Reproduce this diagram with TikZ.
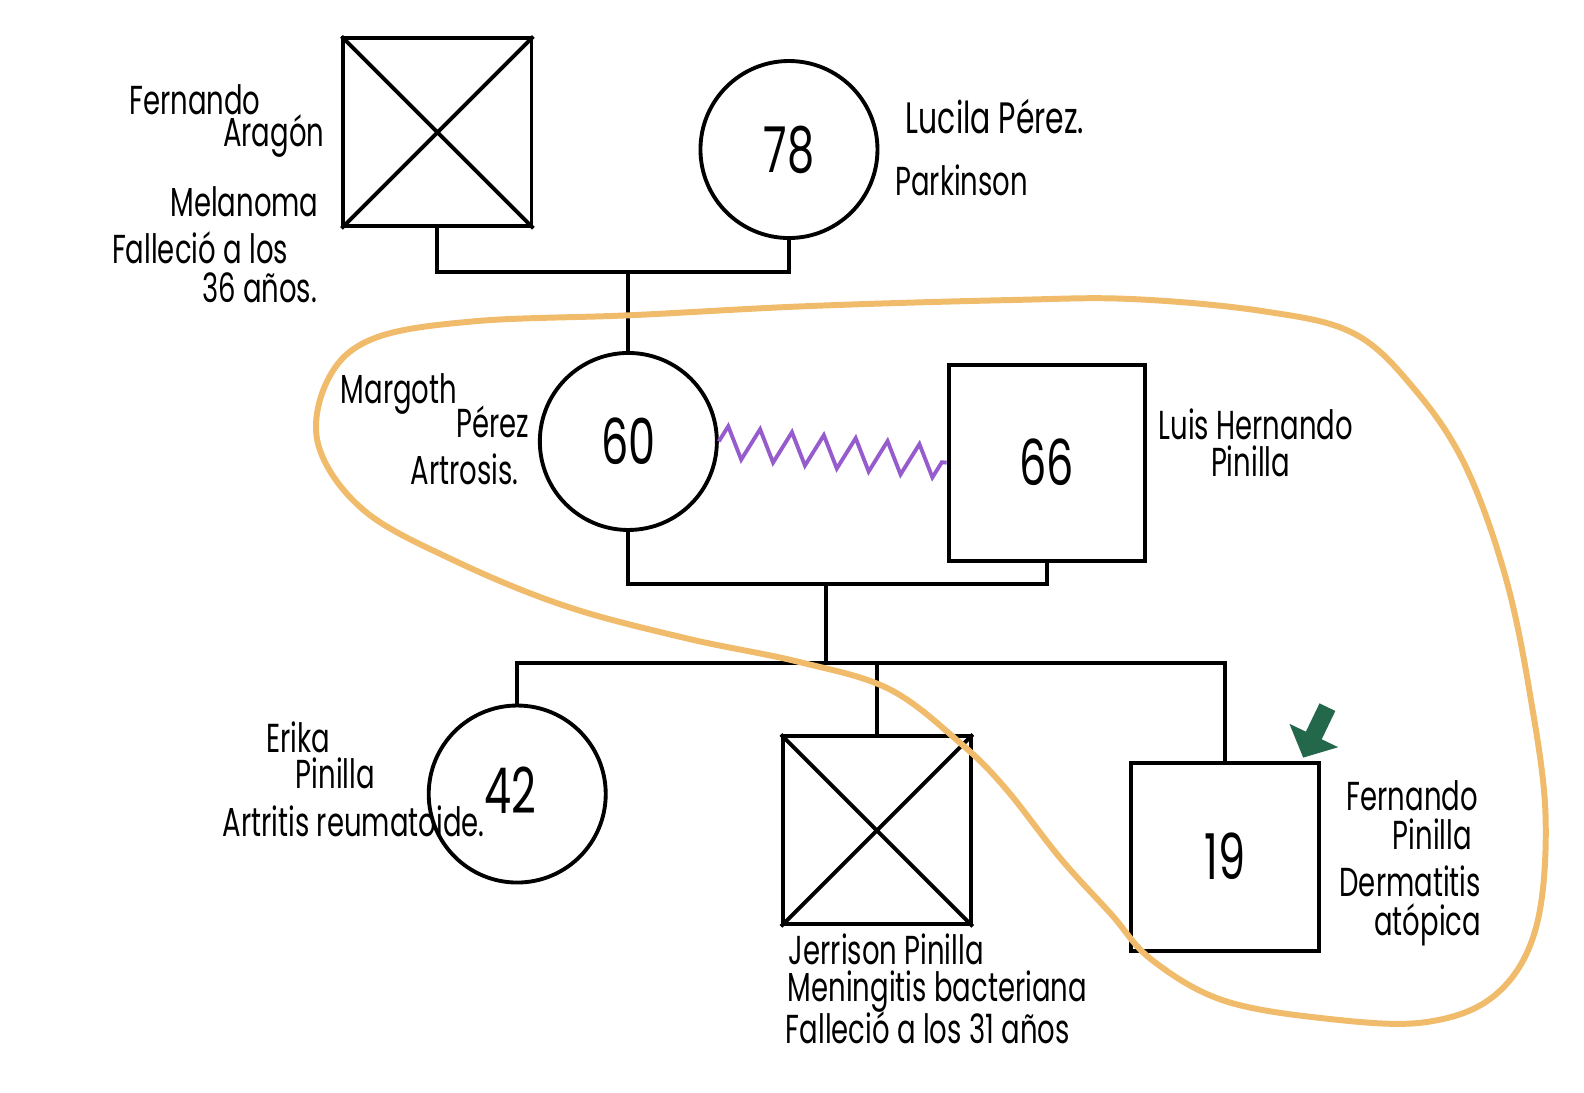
\documentclass[tikz,border=0pt]{standalone}
\usepackage{fontspec}
\setmainfont{Poppins}[FakeStretch=0.68]
\usetikzlibrary{decorations.pathmorphing, arrows.meta}

\definecolor{pencilorange}{RGB}{240,188,108}
\definecolor{zigviolet}{RGB}{150,92,205}
\definecolor{probandgreen}{RGB}{36,104,76}

\begin{document}
\begin{tikzpicture}[x=0.0101cm, y=-0.0101cm, line width=1.1pt,
    male/.style={draw, rectangle, minimum size=1.88cm, inner sep=0pt, font=\fontsize{18}{18}\selectfont},
    female/.style={draw, circle, minimum size=1.77cm, inner sep=0pt, font=\fontsize{18}{18}\selectfont},
    txt/.style={inner sep=0pt, font=\fontsize{11.5}{11}\selectfont}]
      \useasboundingbox (0,0) rectangle (1568,1081);

      % Define coordinates
      \coordinate (bar_top) at (622,269);
      \coordinate (bar_mid) at (818,578);
      \coordinate (sibs) at (818,656);
      \coordinate (arrow_tail) at (1314,700);
      \coordinate (arrow_tip) at (1290,750);

      % Grandparents
      \node[male] (fernando_a) at (433,131) {};
      \node[female] (lucila) at (781,148) {78};
      \draw (fernando_a.north west) -- (fernando_a.south east)
            (fernando_a.north east) -- (fernando_a.south west);
      \draw (fernando_a.south) |- (bar_top) -| (lucila.south);

      % Parents
      \node[female] (margoth) at (622,437) {60};
      \node[male, minimum size=1.96cm] (luis) at (1036,458) {66};
      \draw (bar_top) -- (margoth.north);
      \draw[zigviolet, decorate, decoration={zigzag, segment length=0.32cm, amplitude=0.16cm}]
            (margoth.east) -- (luis.west);
      \draw (margoth.south) |- (bar_mid) -| (luis.south);
      \draw (bar_mid) -- (sibs);

      % Children
      \node[female] (erika) at (512,786) {};
      \node[font=\fontsize{18}{18}\selectfont] (erika_age) at (505,782) {42};
      \node[male] (jerrison) at (868,822) {};
      \node[male] (fernando_p) at (1213,848) {19};
      \draw (jerrison.north west) -- (jerrison.south east)
            (jerrison.north east) -- (jerrison.south west);
      \draw (erika.north) |- (sibs) -| (fernando_p.north);
      \draw (jerrison.north) -- (jerrison.north |- sibs);

      % Proband arrow
      \draw[probandgreen, line width=5pt, -{Triangle[length=7pt, width=15pt]}] (arrow_tail) -- (arrow_tip);

      % Household outline
      \draw[pencilorange, line width=1.7pt] plot[smooth cycle, tension=0.6] coordinates {
        (625,312) (800,303) (1000,297) (1120,296) (1250,308) (1340,330) (1400,385)
        (1450,460) (1490,570) (1515,690) (1530,810) (1520,920) (1480,985) (1410,1012)
        (1310,1008) (1210,990) (1140,950) (1100,905) (1050,850) (995,780) (950,735)
        (880,682) (790,655) (680,632) (560,600) (450,555) (360,505) (315,440)
        (325,375) (370,335) (470,318)};

      % Labels
      \node[txt] (fa_name1) at (193,99) {Fernando};
      \node[txt] (fa_name2) at (271,135) {Aragón};
      \node[txt] (fa_dx) at (242,200) {Melanoma};
      \node[txt] (fa_death1) at (198,245) {Falleció a los};
      \node[txt] (fa_death2) at (257,285) {36 años.};
      \node[txt, font=\fontsize{12.5}{12}\selectfont] (lu_name) at (985,115) {Lucila Pérez.};
      \node[txt] (lu_dx) at (952,178) {Parkinson};
      \node[txt] (ma_name1) at (395,390) {Margoth};
      \node[txt] (ma_name2) at (488,418) {Pérez};
      \node[txt] (ma_dx) at (460,465) {Artrosis.};
      \node[txt] (lh_name1) at (1243,420) {Luis Hernando};
      \node[txt] (lh_name2) at (1238,457) {Pinilla};
      \node[txt] (er_name1) at (295,730) {Erika};
      \node[txt] (er_name2) at (332,765) {Pinilla};
      \node[txt] (er_dx) at (350,813) {Artritis reumatoide.};
      \node[txt, anchor=west] (je_name) at (779,940) {Jerrison Pinilla};
      \node[txt, anchor=west] (je_dx) at (778,982) {Meningitis bacteriana};
      \node[txt, anchor=west] (je_death) at (776,1017) {Falleció a los 31 años};
      \node[txt] (fp_name1) at (1398,788) {Fernando};
      \node[txt] (fp_name2) at (1418,826) {Pinilla};
      \node[txt, align=right, anchor=east] (fp_dx) at (1468,897) {Dermatitis\\atópica};
    \end{tikzpicture}
\end{document}
